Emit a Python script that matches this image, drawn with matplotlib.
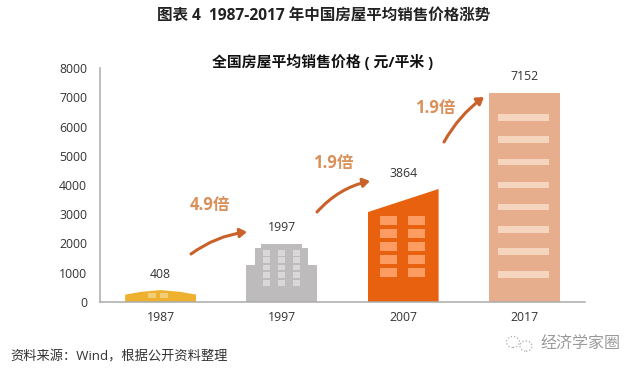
"""
1987-2017 national average house price, building-shaped bars
"""

import matplotlib
matplotlib.use("Agg")
import matplotlib.pyplot as plt
from matplotlib.patches import Polygon, Rectangle, FancyArrowPatch, Ellipse

plt.rcParams["font.family"] = ["Open Sans", "Noto Sans CJK SC", "DejaVu Sans"]

# ── Data ──────────────────────────────────────────────────────────────────────
YEARS = ["1987", "1997", "2007", "2017"]
PRICES = [408, 1997, 3864, 7152]
MULTIPLES = ["4.9倍", "1.9倍", "1.9倍"]
Y_TICKS = [0, 1000, 2000, 3000, 4000, 5000, 6000, 7000, 8000]

TITLE = "图表 4  1987-2017 年中国房屋平均销售价格涨势"
SUBTITLE = "全国房屋平均销售价格 ( 元/平米 )"
SOURCE = "资料来源：Wind，根据公开资料整理"
WATERMARK = "经济学家圈"

# ── Style ─────────────────────────────────────────────────────────────────────
W, H = 640, 372
AX_L, AX_R, AX_T, AX_B = 100, 585, 68, 302
BAR_W = 0.585
COLORS = ["#EDB12F", "#BDBBBC", "#E8610E", "#E6AE8C"]
WINDOW_COLORS = ["#F3CE78", "#D9D8D8", "#FC9C62", "#F6D5BF"]
ARROW = "#C8622A"
MULT_COLOR = "#D9915C"
TEXT = "#333333"
AXIS = "#ABABAB"

fig = plt.figure(figsize=(W / 100, H / 100), dpi=100)
ax = fig.add_axes([AX_L / W, 1 - AX_B / H, (AX_R - AX_L) / W, (AX_B - AX_T) / H])
ax.set_xlim(-0.5, 3.5)
ax.set_ylim(0, 8000)


def px(x, y):
    """Reference pixel -> data coords, for the decoration only."""
    return ((x - AX_L) / (AX_R - AX_L) * 4 - 0.5,
            (AX_B - y) / (AX_B - AX_T) * 8000)


bars = ax.bar(range(4), PRICES, width=BAR_W, color=COLORS, zorder=2)

# ── Building silhouettes: the bars get clipped, heights stay the data ─────────
hw = BAR_W / 2
v = PRICES
outlines = [
    [(-hw, 0), (-hw, v[0] * 0.62), (-hw * 0.55, v[0] * 0.85), (0, v[0]),
     (hw * 0.55, v[0] * 0.85), (hw, v[0] * 0.62), (hw, 0)],
    [(1 - hw, 0), (1 - hw, v[1] * 0.64), (1 - hw * 0.75, v[1] * 0.64),
     (1 - hw * 0.75, v[1] * 0.93), (1 - hw * 0.58, v[1] * 0.93), (1 - hw * 0.58, v[1]),
     (1 + hw * 0.58, v[1]), (1 + hw * 0.58, v[1] * 0.93), (1 + hw * 0.75, v[1] * 0.93),
     (1 + hw * 0.75, v[1] * 0.64), (1 + hw, v[1] * 0.64), (1 + hw, 0)],
    [(2 - hw, 0), (2 - hw, v[2] * 0.795), (2 + hw, v[2]), (2 + hw, 0)],
]
for bar, outline in zip(bars, outlines):
    clip = Polygon(outline, transform=ax.transData)
    bar.set_clip_path(clip)


def windows(xs, ys, w, h, color):
    for x0 in xs:
        for y0 in ys:
            x, y = px(x0, y0 + h)
            x1, y1 = px(x0 + w, y0)
            ax.add_patch(Rectangle((x, y), x1 - x, y1 - y, color=color, lw=0, zorder=3))


windows([148, 160], [293], 8, 5, WINDOW_COLORS[0])
windows([263, 278, 293], [250, 257, 264.5, 272, 280], 7, 5.5, WINDOW_COLORS[1])
windows([380, 408], [216, 229, 242, 255, 268], 17, 9, WINDOW_COLORS[2])
windows([498], [114, 136.5, 159, 181.5, 203.5, 226, 248.5, 271], 51, 6.5, WINDOW_COLORS[3])

# ── Value labels ──────────────────────────────────────────────────────────────
for i, p in enumerate(PRICES):
    ax.annotate(str(p), (i, p), xytext=(0, 11.5), textcoords="offset points",
                ha="center", va="center", fontsize=8.8, color=TEXT)

# ── Growth arrows and multiples ───────────────────────────────────────────────
arrows = [((191, 254), (247, 232), -0.13), ((317, 212), (370, 181), -0.16), ((444, 142), (484, 97), -0.11)]
labels = [(210, 205), (333, 163), (435, 108)]
for (start, end, rad), pos, label in zip(arrows, labels, MULTIPLES):
    ax.add_patch(FancyArrowPatch(px(*start), px(*end), connectionstyle=f"arc3,rad={rad}",
                                 arrowstyle="-|>,head_length=4,head_width=2.6", color=ARROW,
                                 lw=2.2, shrinkA=0, shrinkB=0, zorder=4))
    ax.text(*px(*pos), label, ha="center", va="center", fontsize=12,
            fontweight="bold", color=MULT_COLOR)

# ── Axes ──────────────────────────────────────────────────────────────────────
for side in ["top", "right"]:
    ax.spines[side].set_visible(False)
for side in ["left", "bottom"]:
    ax.spines[side].set_color(AXIS)
    ax.spines[side].set_linewidth(1.1)
ax.set_xticks(range(4), YEARS)
ax.set_yticks(Y_TICKS)
ax.tick_params(axis="both", length=0, labelsize=8.8, labelcolor=TEXT)
ax.tick_params(axis="x", pad=6.5)
ax.tick_params(axis="y", pad=9.2)

# ── Titles and footer ─────────────────────────────────────────────────────────
fig.text(323.5 / W, 1 - 16 / H, TITLE, ha="center", va="center", fontsize=11.2,
         fontweight="bold", color="#222222")
fig.text(323 / W, 1 - 62 / H, SUBTITLE, ha="center", va="center", fontsize=10.7,
         fontweight="bold", color="#111111")
fig.text(10 / W, 1 - 357 / H, SOURCE, ha="left", va="center", fontsize=9.5, color=TEXT)
fig.text(540 / W, 1 - 344 / H, WATERMARK, ha="left", va="center", fontsize=11.5, color="#9A9A9A")

# wechat mark next to the watermark
for x0, y0, d in [(513, 342, 13), (526, 346, 12)]:
    fig.add_artist(Ellipse((x0 / W, 1 - y0 / H), d / W, d * 0.85 / H, transform=fig.transFigure,
                           fill=False, ec="#A8A8A8", lw=0.9, ls=":"))

fig.savefig("out.png", dpi=100)
